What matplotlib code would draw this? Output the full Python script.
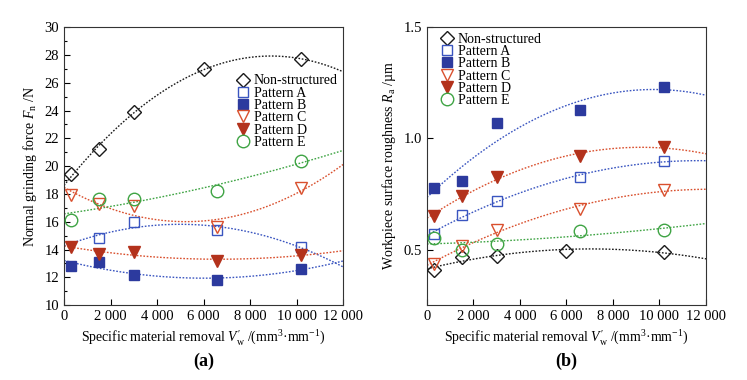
import numpy as np
import matplotlib
matplotlib.use("Agg")
import matplotlib.pyplot as plt

plt.rcParams['font.family'] = ['Liberation Serif', 'DejaVu Serif']
plt.rcParams['mathtext.fontset'] = 'custom'
plt.rcParams['mathtext.rm'] = 'Liberation Serif'
plt.rcParams['mathtext.it'] = 'Liberation Serif:italic'
plt.rcParams['mathtext.bf'] = 'Liberation Serif:bold'

# ---------- data ----------
x_ns = [300, 1500, 3000, 6000, 10200]
x_pat = [300, 1500, 3000, 6600, 10200]
x_a_force = [1500, 3000, 6600, 10200]

force_ns = [19.4, 21.2, 23.9, 27.0, 27.7]
force_a = [14.8, 16.0, 15.4, 14.2]
force_b = [12.8, 13.1, 12.2, 11.8, 12.6]
force_c = [17.9, 17.3, 17.1, 15.6, 18.4]
force_d = [14.2, 13.7, 13.8, 13.2, 13.6]
force_e = [16.1, 17.6, 17.6, 18.2, 20.4]

rough_ns = [0.408, 0.466, 0.473, 0.493, 0.487]
rough_a = [0.570, 0.657, 0.720, 0.826, 0.898]
rough_b = [0.776, 0.807, 1.070, 1.128, 1.230]
rough_c = [0.433, 0.518, 0.589, 0.683, 0.767]
rough_d = [0.653, 0.742, 0.826, 0.922, 0.960]
rough_e = [0.552, 0.500, 0.527, 0.585, 0.588]

labels = ['Non-structured', 'Pattern A', 'Pattern B', 'Pattern C', 'Pattern D', 'Pattern E']
x_ticks = [0, 2000, 4000, 6000, 8000, 10000, 12000]
x_ticklabels = ['0', '2 000', '4 000', '6 000', '8 000', '10 000', '12 000']

# ---------- styles ----------
black = '#1a1a1a'
blue = '#2c3a9e'
blue_open = '#3a55c0'
red_open = '#d9502e'
red_fill = '#b3321c'
green = '#3fa444'

styles = [
    dict(marker='D', mfc='none', mec=black, ms=7, mew=1.0, line=black),
    dict(marker='s', mfc='none', mec=blue_open, ms=7.5, mew=1.0, line=blue_open),
    dict(marker='s', mfc=blue, mec=blue, ms=7, mew=1.0, line=blue_open),
    dict(marker='v', mfc='none', mec=red_open, ms=9, mew=1.0, line=red_open),
    dict(marker='v', mfc=red_fill, mec=red_fill, ms=9, mew=1.0, line=red_open),
    dict(marker='o', mfc='none', mec=green, ms=9, mew=1.0, line=green),
]

fig = plt.figure(figsize=(7.47, 3.80), dpi=100)
ax1 = fig.add_axes([0.0857, 0.197, 0.3735, 0.7316])
ax2 = fig.add_axes([0.5716, 0.197, 0.3735, 0.7316])

xfit = np.linspace(0, 12000, 200)

def draw(ax, xs_list, ys_list):
    for xs, ys, st, lab in zip(xs_list, ys_list, styles, labels):
        c = np.polyfit(xs, ys, 2)
        ax.plot(xfit, np.polyval(c, xfit), linestyle=(0, (1.2, 1.2)), color=st['line'], lw=1.0, zorder=2)
        ax.plot(xs, ys, linestyle='none', marker=st['marker'], mfc=st['mfc'], mec=st['mec'],
                ms=st['ms'], mew=st['mew'], label=lab, zorder=3)

draw(ax1, [x_ns, x_a_force, x_pat, x_pat, x_pat, x_pat],
     [force_ns, force_a, force_b, force_c, force_d, force_e])
draw(ax2, [x_ns, x_pat, x_pat, x_pat, x_pat, x_pat],
     [rough_ns, rough_a, rough_b, rough_c, rough_d, rough_e])

fs = 10.5
lfs = 10
for ax in (ax1, ax2):
    ax.set_xlim(0, 12000)
    ax.set_xticks(x_ticks)
    ax.set_xticklabels(x_ticklabels, fontsize=fs)
    ax.tick_params(direction='in', length=4, width=0.8, top=False, right=False, labelsize=fs)
    for s in ax.spines.values():
        s.set_linewidth(0.8)
        s.set_color('#333333')
    ax.set_xlabel(r"Specific material removal $V^{\prime}_{\rm w}$ /(mm$^3$·mm$^{-1}$)", fontsize=lfs)

ax1.set_ylim(10, 30)
ax1.set_yticks(np.arange(10, 31, 2))
ax1.set_yticks(np.arange(11, 30, 2), minor=True)
ax1.tick_params(which='minor', direction='in', length=2.5, width=0.8, right=False, top=False)
ax1.set_ylabel(r"Normal grinding force $F_{\rm n}$ /N", fontsize=lfs, labelpad=4)

ax2.set_ylim(0.25, 1.5)
ax2.set_yticks([0.5, 1.0, 1.5])
ax2.set_yticklabels(['0.5', '1.0', '1.5'])
ax2.set_ylabel(r"Workpiece surface roughness $R_{\rm a}$ /µm", fontsize=lfs, labelpad=4)

leg_kw = dict(frameon=False, fontsize=10, handlelength=0.7, handletextpad=0.4,
              labelspacing=-0.05, borderpad=0.2, borderaxespad=0)
ax1.legend(loc='upper left', bbox_to_anchor=(0.615, 0.84), **leg_kw)
ax2.legend(loc='upper left', bbox_to_anchor=(0.045, 0.99), **leg_kw)

fig.text(0.0857 + 0.3735 / 2, 0.05, '(a)', ha='center', va='center', fontsize=13, fontweight='bold')
fig.text(0.5716 + 0.3735 / 2, 0.05, '(b)', ha='center', va='center', fontsize=13, fontweight='bold')

fig.savefig('out.png', dpi=100)
